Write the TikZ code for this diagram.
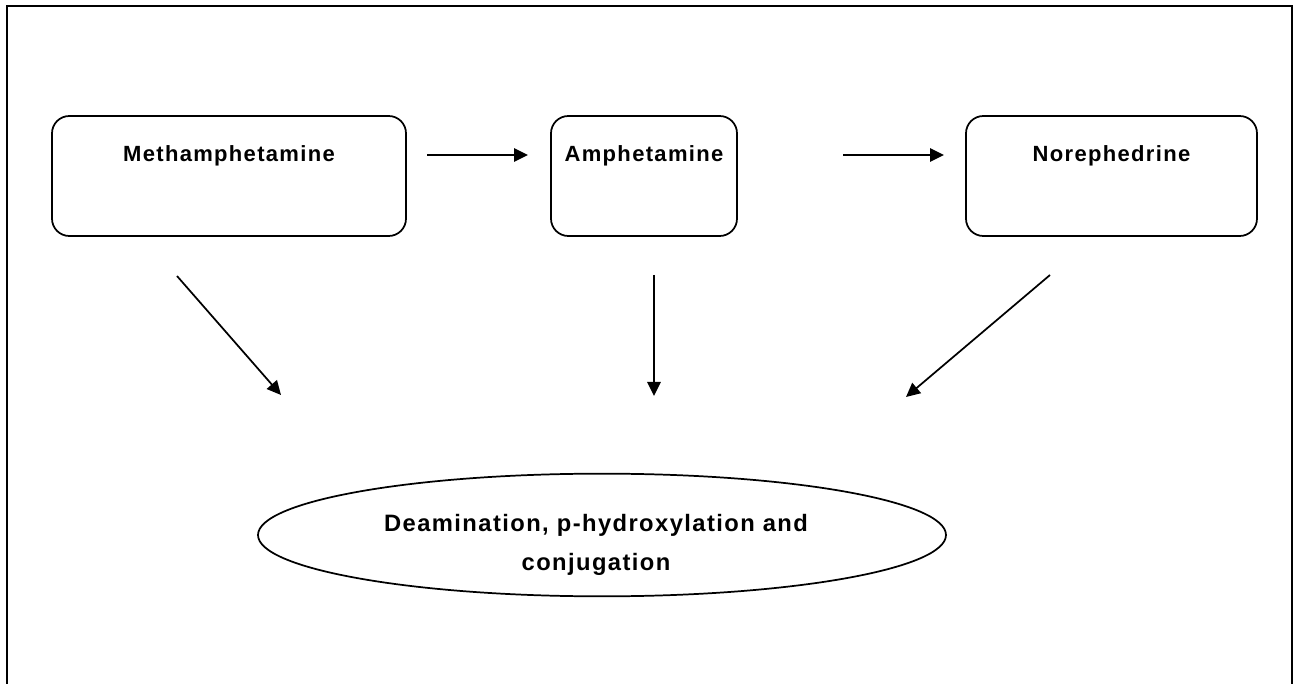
\documentclass[tikz,border=0pt]{standalone}
\usepackage{fontspec}
\newfontfamily\labfont[LetterSpace=6]{Liberation Sans}
\usetikzlibrary{positioning, shapes.geometric, arrows.meta}

\tikzset{
  stagebox/.style={draw, line width=1.3pt, rounded corners=13pt, minimum height=90pt, inner sep=0pt},
  lab/.style={font=\labfont\bfseries\fontsize{16.5}{28}\selectfont, inner sep=0pt, anchor=base},
  biglab/.style={lab, font=\labfont\bfseries\fontsize{17.8}{28}\selectfont},
  arr/.style={line width=1.3pt, -{Triangle[length=10.5pt, width=10pt]}},
}

\begin{document}
\begin{tikzpicture}[x=0.75pt, y=-0.75pt]
    \useasboundingbox (0,0) rectangle (1297,684);

    % Outer frame, open at the bottom
    \draw[line width=2pt] (7,700) -- (7,6) -- (1292,6) -- (1292,700);

    % Draw the three boxes and their names
    \foreach \n/\x/\w/\t in {meth/229/265.5pt/Methamphetamine, amph/644/139.5pt/Amphetamine, nore/1111.5/218.25pt/Norephedrine} {
      \node[stagebox, minimum width=\w] (\n) at (\x,176) {};
      \node[lab] (\n-lab) at (\x,162) {\t};
    }

    % Metabolic pathway
    \node[draw, ellipse, line width=1.3pt, minimum width=516pt, minimum height=92pt, inner sep=0pt] (metab) at (602,535) {};
    \node[biglab] (metab-l1) at (596,532) {Deamination, p-hydroxylation and};
    \node[biglab] (metab-l2) at (596,570) {conjugation};

    % Arrow ends
    \coordinate (h1s) at (427,155);  \coordinate (h1e) at (528,155);
    \coordinate (h2s) at (843,155);  \coordinate (h2e) at (944,155);
    \coordinate (d1s) at (177,276);  \coordinate (d1e) at (281,395);
    \coordinate (d2s) at (654,275);  \coordinate (d2e) at (654,396);
    \coordinate (d3s) at (1050,275); \coordinate (d3e) at (906,397);

    \foreach \a in {h1, h2, d1, d2, d3} {
      \draw[arr] (\a s) -- (\a e);
    }
\end{tikzpicture}
\end{document}
